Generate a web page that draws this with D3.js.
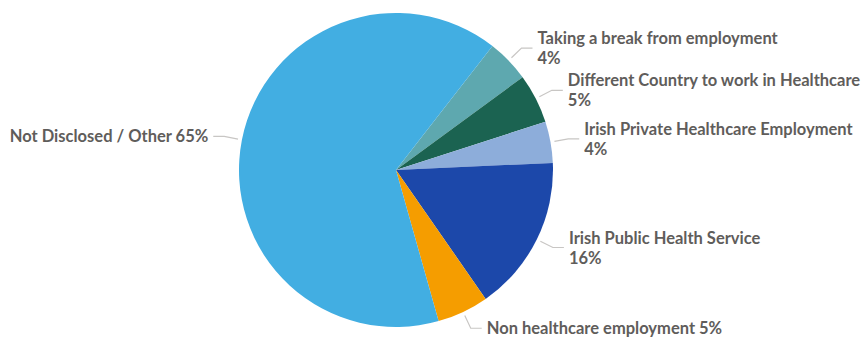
<!DOCTYPE html>
<html>
<head>
<meta charset="utf-8">
<script src="https://cdn.jsdelivr.net/npm/d3@7"></script>
<style>
  html, body { margin: 0; padding: 0; background: #fff; }
  svg { display: block; }
  .lbl { font-family: Lato, "Open Sans", sans-serif; font-weight: 700; fill: #5F5D5B; }
</style>
</head>
<body>
<svg id="chart" width="861" height="337"></svg>
<script>
// ---- data ----
const categories = [
  "Taking a break from employment",
  "Different Country to work in Healthcare",
  "Irish Private Healthcare Employment",
  "Irish Public Health Service",
  "Non healthcare employment",
  "Not Disclosed / Other"
];
const values = [4.4, 5.1, 4.25, 16.05, 5.3, 64.9];
const percentLabels = ["4%", "5%", "4%", "16%", "5%", "65%"];

// ---- styles / layout ----
const colors = ["#5EA8AF", "#1B6351", "#8DADDA", "#1C48AA", "#F59D00", "#42AEE2"];
const twoLine = [true, true, true, true, false, false];
const cx = 396, cy = 170, R = 157;
const startDeg = 37.9;
const fontSize = 16.5;

const svg = d3.select("#chart");
const g = svg.append("g").attr("transform", `translate(${cx},${cy})`);

const a0 = startDeg * Math.PI / 180;
const pie = d3.pie().sort(null).value(d => d).startAngle(a0).endAngle(a0 + 2 * Math.PI);
const arcs = pie(values);
const arc = d3.arc().innerRadius(0).outerRadius(R);

g.selectAll("path.slice").data(arcs).join("path")
  .attr("class", "slice")
  .attr("d", arc)
  .attr("fill", (d, i) => colors[i]);

const startArc = d3.arc().innerRadius(R + 4).outerRadius(R + 4);
const elbowArc = d3.arc().innerRadius(R + 18).outerRadius(R + 18);

arcs.forEach((d, i) => {
  const mid = (d.startAngle + d.endAngle) / 2;
  const right = Math.sin(mid) > 0;
  const p0 = startArc.centroid(d);
  const p1 = elbowArc.centroid(d);
  const p2 = [p1[0] + (right ? 11 : -11), p1[1]];
  g.append("polyline")
    .attr("points", [p0, p1, p2].map(p => p.join(",")).join(" "))
    .attr("fill", "none")
    .attr("stroke", "#C8C6C4")
    .attr("stroke-width", 1.2);
  const tx = p2[0] + (right ? 5 : -5);
  const t = g.append("text")
    .attr("class", "lbl")
    .attr("font-size", fontSize)
    .attr("text-anchor", right ? "start" : "end");
  if (twoLine[i]) {
    t.append("tspan").attr("x", tx).attr("y", p1[1] - 4).text(categories[i]);
    t.append("tspan").attr("x", tx).attr("y", p1[1] + 16).text(percentLabels[i]);
  } else {
    t.attr("x", tx).attr("y", p1[1] + 5.5).text(categories[i] + " " + percentLabels[i]);
  }
});
</script>
</body>
</html>
